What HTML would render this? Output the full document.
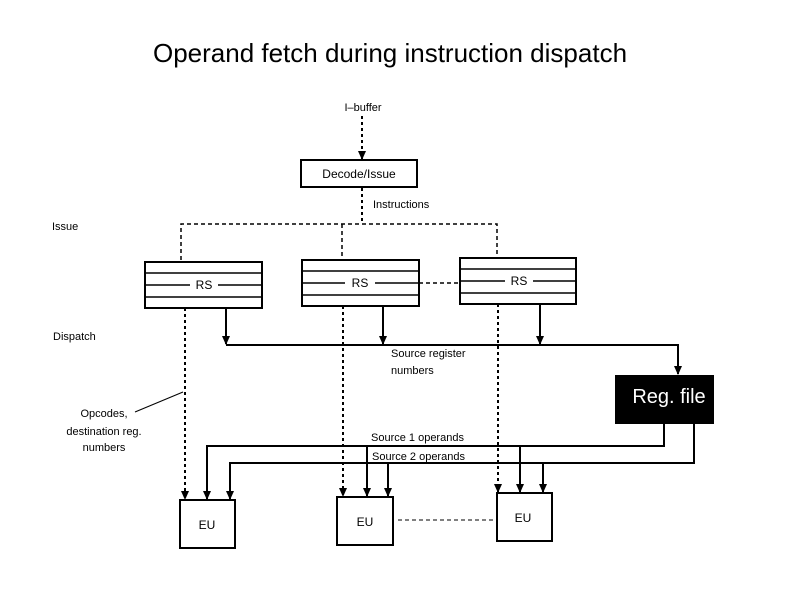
<!DOCTYPE html>
<html><head><style>body{margin:0;background:#fff}svg{display:block}text{font-family:"Liberation Sans",sans-serif}</style></head><body>
<svg width="794" height="595" viewBox="0 0 794 595" xmlns="http://www.w3.org/2000/svg">
<defs><marker id="a" markerWidth="9" markerHeight="8" refX="8" refY="4" orient="auto" markerUnits="userSpaceOnUse"><path d="M0,0 L9,4 L0,8 Z" fill="#000"/></marker></defs>
<text x="390" y="62" font-size="26" text-anchor="middle">Operand fetch during instruction dispatch</text>
<g font-size="11" fill="#000">
<text x="363" y="111" text-anchor="middle">I–buffer</text>
<text x="373" y="208">Instructions</text>
<text x="52" y="230">Issue</text>
<text x="53" y="340">Dispatch</text>
<text x="391" y="357">Source register</text>
<text x="391" y="374">numbers</text>
<text x="104" y="417" text-anchor="middle">Opcodes,</text>
<text x="104" y="435" text-anchor="middle">destination reg.</text>
<text x="104" y="451" text-anchor="middle">numbers</text>
<text x="371" y="441">Source 1 operands</text>
<text x="372" y="460">Source 2 operands</text>
</g>
<g stroke="#000" fill="none" stroke-width="2">
<line x1="362" y1="116" x2="362" y2="159" stroke-dasharray="3,3" marker-end="url(#a)"/>
<rect x="301" y="160" width="116" height="27" fill="#fff"/>
<line x1="362" y1="188" x2="362" y2="224" stroke-dasharray="3,3"/>
<polyline points="181,260 181,224 497,224 497,258" stroke-dasharray="4,3" stroke-width="1.5"/>
<line x1="342" y1="224" x2="342" y2="260" stroke-dasharray="4,3" stroke-width="1.5"/>
<line x1="419" y1="283" x2="460" y2="283" stroke-dasharray="4,3" stroke-width="1.5"/>
<line x1="185" y1="308" x2="185" y2="499" stroke-dasharray="3,3" marker-end="url(#a)"/>
<line x1="343" y1="306" x2="343" y2="496" stroke-dasharray="3,3" marker-end="url(#a)"/>
<line x1="498" y1="304" x2="498" y2="492" stroke-dasharray="3,3" marker-end="url(#a)"/>
<line x1="226" y1="308" x2="226" y2="344" marker-end="url(#a)"/>
<line x1="383" y1="306" x2="383" y2="344" marker-end="url(#a)"/>
<line x1="540" y1="304" x2="540" y2="344" marker-end="url(#a)"/>
<polyline points="226,345 678,345 678,374" marker-end="url(#a)"/>
<line x1="183" y1="392" x2="135" y2="412" stroke-width="1"/>
<polyline points="664,424 664,446 207,446 207,499" marker-end="url(#a)"/>
<polyline points="694,424 694,463 230,463 230,499" marker-end="url(#a)"/>
<line x1="367" y1="446" x2="367" y2="496" marker-end="url(#a)"/>
<line x1="388" y1="463" x2="388" y2="496" marker-end="url(#a)"/>
<line x1="520" y1="446" x2="520" y2="492" marker-end="url(#a)"/>
<line x1="543" y1="463" x2="543" y2="492" marker-end="url(#a)"/>
<rect x="180" y="500" width="55" height="48"/>
<rect x="337" y="497" width="56" height="48"/>
<rect x="497" y="493" width="55" height="48"/>
<line x1="398" y1="520" x2="493" y2="520" stroke-dasharray="4,3" stroke-width="1"/>
</g>
<g stroke="#000" fill="none" stroke-width="1.5">
<rect x="145" y="262" width="117" height="46" stroke-width="2"/><line x1="145" y1="273" x2="262" y2="273"/><line x1="145" y1="285" x2="190" y2="285"/><line x1="218" y1="285" x2="262" y2="285"/><line x1="145" y1="297" x2="262" y2="297"/>
<rect x="302" y="260" width="117" height="46" stroke-width="2"/><line x1="302" y1="271" x2="419" y2="271"/><line x1="302" y1="283" x2="345" y2="283"/><line x1="375" y1="283" x2="419" y2="283"/><line x1="302" y1="295" x2="419" y2="295"/>
<rect x="460" y="258" width="116" height="46" stroke-width="2"/><line x1="460" y1="269" x2="576" y2="269"/><line x1="460" y1="281" x2="505" y2="281"/><line x1="533" y1="281" x2="576" y2="281"/><line x1="460" y1="293" x2="576" y2="293"/>
</g>
<g font-size="12" text-anchor="middle">
<text x="359" y="178">Decode/Issue</text>
<text x="204" y="289">RS</text><text x="360" y="287">RS</text><text x="519" y="285">RS</text>
<text x="207" y="529">EU</text><text x="365" y="526">EU</text><text x="523" y="522">EU</text>
</g>
<rect x="615" y="375" width="99" height="49" fill="#000"/>
<text x="669" y="403" font-size="20" fill="#fff" text-anchor="middle">Reg. file</text>
</svg>
</body></html>
